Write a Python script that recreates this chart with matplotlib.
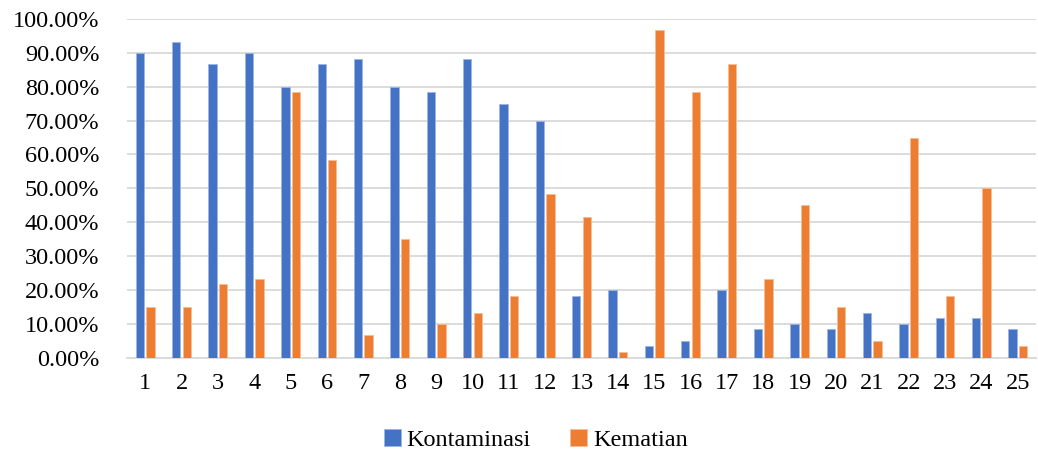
import numpy as np
import matplotlib.pyplot as plt
from matplotlib.ticker import FuncFormatter

categories = [str(i) for i in range(1, 26)]
kontaminasi = [90.00, 93.33, 86.67, 90.00, 80.00, 86.67, 88.33, 80.00, 78.33, 88.33,
               75.00, 70.00, 18.33, 20.00, 3.33, 5.00, 20.00, 8.33, 10.00, 8.33,
               13.33, 10.00, 11.67, 11.67, 8.33]
kematian = [15.00, 15.00, 21.67, 23.33, 78.33, 58.33, 6.67, 35.00, 10.00, 13.33,
            18.33, 48.33, 41.67, 1.67, 96.67, 78.33, 86.67, 23.33, 45.00, 15.00,
            5.00, 65.00, 18.33, 50.00, 3.33]

plt.rcParams['font.family'] = ['Liberation Serif', 'DejaVu Serif']

fig = plt.figure(figsize=(10.38, 4.57), dpi=100)
ax = fig.add_axes([0.1224, 0.2173, 0.8756, 0.7411])

x = np.arange(len(categories))
w = 0.23
off = 0.145
ax.bar(x - off, kontaminasi, w, color='#4472C4', edgecolor='#9DB5E2', linewidth=0.6,
       label='Kontaminasi', zorder=3)
ax.bar(x + off, kematian, w, color='#ED7D31', edgecolor='#F6BE98', linewidth=0.6,
       label='Kematian', zorder=3)

ax.set_xlim(-0.5, len(categories) - 0.5)
ax.set_ylim(0, 100)
ax.set_yticks(np.arange(0, 101, 10))
ax.yaxis.set_major_formatter(FuncFormatter(lambda v, p: '%.2f%%' % v))
ax.set_xticks(x)
ax.set_xticklabels(categories)
ax.grid(axis='y', color='#D9D9D9', linewidth=1.3, zorder=0)
for s in ['top', 'right', 'left']:
    ax.spines[s].set_visible(False)
ax.spines['bottom'].set_color('#D9D9D9')
ax.spines['bottom'].set_linewidth(1.3)
ax.tick_params(axis='y', length=0, pad=20, labelsize=17.5)
ax.tick_params(axis='x', length=0, pad=11, labelsize=17.5)

fig.legend(loc='center', bbox_to_anchor=(0.516, 0.037), ncol=2, frameon=False,
           fontsize=17.5, handlelength=0.7, handleheight=0.7, handletextpad=0.25,
           columnspacing=1.6)

fig.savefig('out.png', dpi=100)
